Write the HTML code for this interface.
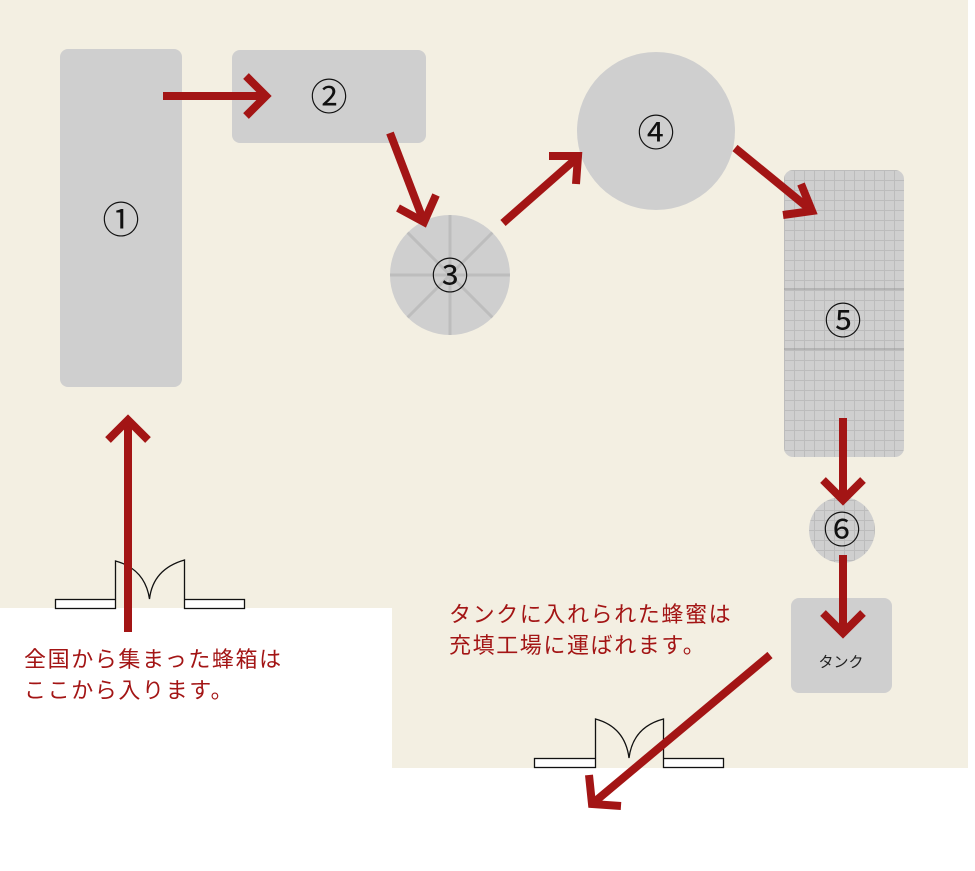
<!DOCTYPE html>
<html><head><meta charset="utf-8"><style>
body{margin:0;width:975px;height:871px;overflow:hidden;background:#fff}
svg{display:block}
text{font-family:"Liberation Sans","Noto Sans CJK JP",sans-serif}
</style></head><body>
<svg width="975" height="871" viewBox="0 0 975 871" xmlns="http://www.w3.org/2000/svg">
<defs>
<pattern id="g" width="10" height="10" patternUnits="userSpaceOnUse" x="784" y="170">
<rect width="10" height="10" fill="#cfcfcf"/>
<path d="M0 0.5H10M0.5 0V10" stroke="#bcbcbc" stroke-width="1"/>
</pattern>
<clipPath id="c3"><circle cx="450" cy="275" r="60"/></clipPath>
</defs>
<rect x="0" y="0" width="968" height="768" fill="#f3efe2"/>
<rect x="0" y="608" width="392" height="263" fill="#fff"/>
<rect x="60" y="49" width="122" height="338" rx="8" fill="#cfcfcf"/>
<rect x="232" y="50" width="194" height="93" rx="8" fill="#cfcfcf"/>
<circle cx="450" cy="275" r="60" fill="#cfcfcf"/>
<g clip-path="url(#c3)" stroke="#bdbdbd" stroke-width="3">
<line x1="450" y1="210" x2="450" y2="340"/><line x1="385" y1="275" x2="515" y2="275"/>
<line x1="404" y1="229" x2="496" y2="321"/><line x1="496" y1="229" x2="404" y2="321"/>
</g>
<circle cx="656" cy="131" r="79" fill="#cfcfcf"/>
<rect x="784" y="170" width="120" height="287" rx="9" fill="url(#g)"/>
<line x1="784" y1="289" x2="904" y2="289" stroke="#999" stroke-width="1"/>
<line x1="784" y1="349" x2="904" y2="349" stroke="#999" stroke-width="1"/>
<circle cx="842" cy="530" r="33" fill="url(#g)"/>
<rect x="791" y="598" width="101" height="95" rx="8" fill="#cfcfcf"/>
<text x="841" y="667" font-size="15" text-anchor="middle" fill="#222">タンク</text>
<g font-size="37" text-anchor="middle" fill="#111">
<text x="121" y="233">①</text><text x="329" y="110">②</text><text x="450" y="289">③</text>
<text x="656" y="146">④</text><text x="843" y="334">⑤</text><text x="842" y="543">⑥</text>
</g>
<g fill="#fff" stroke="#111" stroke-width="1.3">
<rect x="55.5" y="599.5" width="60" height="9"/><rect x="184.5" y="599.5" width="60" height="9"/>
<rect x="534.5" y="758.5" width="61" height="9"/><rect x="663.5" y="758.5" width="60" height="9"/>
</g>
<g fill="none" stroke="#111" stroke-width="1.3">
<path d="M115.5 599V561Q145 569 149.5 599Q153 569 184.5 560V599"/>
<path d="M595.5 758V719Q625 727 629 758Q633 727 663.5 719V758"/>
</g>
<g fill="none" stroke="#a31515" stroke-width="8" stroke-linejoin="miter" stroke-miterlimit="10">
<line x1="163" y1="96" x2="266" y2="96"/><polyline points="246,76 266,96 246,116"/>
<line x1="390" y1="133" x2="424" y2="222"/><polyline points="398,208 424,222 436,195"/>
<line x1="503" y1="223" x2="578" y2="157"/><polyline points="549,156 578,156 576,184"/>
<line x1="735" y1="148" x2="812" y2="211"/><polyline points="801,184 812,211 783,215"/>
<line x1="843" y1="418" x2="843" y2="500"/><polyline points="823,480 843,500 863,480"/>
<line x1="843" y1="555" x2="843" y2="633"/><polyline points="823,613 843,633 863,613"/>
<line x1="770" y1="655" x2="592" y2="804"/><polyline points="589,775 592,804 621,806"/>
<line x1="128" y1="632" x2="128" y2="420"/><polyline points="108,440 128,420 148,440"/>
</g>
<g font-size="22" fill="#a31515" letter-spacing="1.6">
<text x="24" y="667">全国から集まった蜂箱は</text>
<text x="24" y="698">ここから入ります。</text>
<text x="449" y="622">タンクに入れられた蜂蜜は</text>
<text x="449" y="653">充填工場に運ばれます。</text>
</g>
</svg>
</body></html>
